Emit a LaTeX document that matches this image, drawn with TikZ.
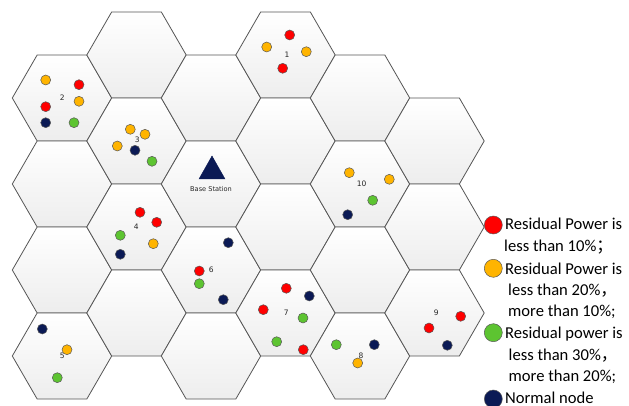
\documentclass[tikz,border=0pt]{standalone}
\usepackage{fontspec}
\setmainfont{Carlito}
\newfontfamily\cjk{Noto Sans CJK SC}
\newfontfamily\labelfont{DejaVu Sans}
\definecolor{lowred}{HTML}{FF0000}
\definecolor{loworange}{HTML}{FFB400}
\definecolor{lowgreen}{HTML}{5DC431}
\definecolor{normalnavy}{HTML}{0B1A55}
\definecolor{hexline}{HTML}{555555}
\begin{document}
\begin{tikzpicture}[x=1pt, y=-1pt,
	hexcell/.style = {draw=hexline, line width=0.8pt, top color=white, bottom color=black!7},
	dot/.style = {draw=black!65, line width=0.5pt},
	reddot/.style = {dot, fill=lowred},
	orangedot/.style = {dot, fill=loworange},
	greendot/.style = {dot, fill=lowgreen},
	navydot/.style = {dot, fill=normalnavy},
	cellno/.style = {font=\labelfont\fontsize{7.5}{8}\selectfont, text=black!85, inner sep=0pt},
	legendtext/.style = {anchor=base west, inner sep=0pt, font=\fontsize{16.6}{18}\selectfont}]
	\useasboundingbox (0,0) rectangle (629,406);

	%hexagon grid, one column at a time
	\foreach \cx/\cy in {62/98, 62/184, 62/270, 62/356,
			136.5/55, 136.5/141, 136.5/227, 136.5/313,
			211/98, 211/184, 211/270, 211/356,
			285.5/55, 285.5/141, 285.5/227, 285.5/313,
			360/98, 360/184, 360/270, 360/356,
			434.5/141, 434.5/227, 434.5/313}
		\draw[hexcell] (\cx+49.7,\cy) -- (\cx+24.85,\cy+43) -- (\cx-24.85,\cy+43)
			-- (\cx-49.7,\cy) -- (\cx-24.85,\cy-43) -- (\cx+24.85,\cy-43) -- cycle;

	%base station
	\draw[fill=normalnavy, draw=normalnavy] (212,156) -- (225,179) -- (199,179) -- cycle;
	\node[cellno, font=\labelfont\fontsize{6.6}{8}\selectfont] (bs) at (211,189.5) {Base Station};

	%cell 1
	\draw[reddot] (289.7,35) circle (5);
	\draw[orangedot] (266.7,47) circle (5);
	\draw[orangedot] (306.3,51.7) circle (5);
	\draw[reddot] (282.7,68.3) circle (5);
	\node[cellno] (c1) at (287,55) {1};

	%cell 2
	\draw[orangedot] (45.7,80) circle (5);
	\draw[reddot] (79,84.7) circle (5);
	\draw[reddot] (45.7,106.7) circle (5);
	\draw[orangedot] (79,101.3) circle (5);
	\draw[navydot] (45.7,122.7) circle (5);
	\draw[greendot] (74,122.7) circle (5);
	\node[cellno] (c2) at (62.3,97.3) {2};

	%cell 3
	\draw[orangedot] (130.3,129.3) circle (5);
	\draw[orangedot] (145,134.3) circle (5);
	\node[cellno] (c3) at (137.3,140) {3};
	\draw[orangedot] (117.3,146) circle (5);
	\draw[navydot] (135,150.3) circle (5);
	\draw[greendot] (152,161.3) circle (5);

	%cell 4
	\draw[reddot] (140,212.3) circle (5);
	\draw[reddot] (156.7,222.3) circle (5);
	\draw[greendot] (120.3,235.3) circle (5);
	\draw[orangedot] (153.3,243.7) circle (5);
	\draw[navydot] (120.3,254.3) circle (5);
	\node[cellno] (c4) at (136.3,227) {4};

	%cell 5
	\draw[navydot] (42.3,329) circle (5);
	\node[cellno] (c5) at (62.3,355.7) {5};
	\draw[orangedot] (67,349.7) circle (5);
	\draw[greendot] (57.3,377.7) circle (5);

	%cell 6
	\draw[navydot] (228.3,242.7) circle (5);
	\draw[reddot] (199.3,271) circle (5);
	\draw[greendot] (199.3,283.7) circle (5);
	\draw[navydot] (223.3,299.7) circle (5);
	\node[cellno] (c6) at (211.3,270) {6};

	%cell 7
	\draw[reddot] (286.3,288.3) circle (5);
	\draw[navydot] (309.3,296) circle (5);
	\draw[reddot] (263.3,309.7) circle (5);
	\draw[greendot] (303,318) circle (5);
	\draw[greendot] (276.7,341.7) circle (5);
	\draw[reddot] (303.3,349.7) circle (5);
	\node[cellno] (c7) at (286.3,313) {7};

	%cell 8
	\draw[greendot] (336.3,344.7) circle (5);
	\draw[navydot] (374.3,344.7) circle (5);
	\node[cellno] (c8) at (361,355.7) {8};
	\draw[orangedot] (357.7,363) circle (5);

	%cell 9
	\draw[reddot] (460.7,316.3) circle (5);
	\draw[reddot] (429,328) circle (5);
	\draw[navydot] (447.3,345.3) circle (5);
	\node[cellno] (c9) at (436.3,313) {9};

	%cell 10
	\draw[orangedot] (349.3,172.7) circle (5);
	\draw[orangedot] (389.3,179.3) circle (5);
	\draw[greendot] (372.7,200.3) circle (5);
	\draw[navydot] (347.7,214.7) circle (5);
	\node[cellno] (c10) at (361.7,184) {10};

	%legend
	\draw[reddot] (493.3,225) circle (9);
	\draw[orangedot] (493.3,268.3) circle (9);
	\draw[greendot] (493.3,332.7) circle (9);
	\draw[navydot] (493.3,399) circle (9);
	\node[legendtext] (l1) at (505,229.3) {Residual Power is};
	\node[legendtext] (l2) at (504,251.7) {less than 10\%{\cjk ；}};
	\node[legendtext] (l3) at (505,274) {Residual Power is};
	\node[legendtext] (l4) at (508,295.7) {less than 20\%{\cjk ，}};
	\node[legendtext] (l5) at (508,316.7) {more than 10\%;};
	\node[legendtext] (l6) at (505,338.3) {Residual power is};
	\node[legendtext] (l7) at (508.5,360) {less than 30\%{\cjk ，}};
	\node[legendtext] (l8) at (508.5,381.7) {more than 20\%;};
	\node[legendtext] (l9) at (505,403.3) {Normal node};
\end{tikzpicture}
\end{document}
